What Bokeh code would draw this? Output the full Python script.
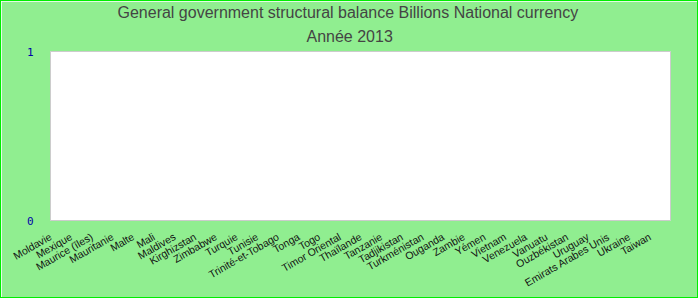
from bokeh.plotting import figure
from bokeh.models import ColumnDataSource, FixedTicker, Range1d, Title
from bokeh.transform import dodge
from bokeh.embed import file_html
from bokeh.resources import INLINE

title_line1 = "General government structural balance Billions National currency"
title_line2 = "Année 2013"

countries = [
    "Moldavie", "Mexique", "Maurice (îles)", "Mauritanie", "Malte", "Mali",
    "Maldives", "Kirghizstan", "Zimbabwe", "Turquie", "Tunisie",
    "Trinité-et-Tobago", "Tonga", "Togo", "Timor Oriental", "Thaïlande",
    "Tanzanie", "Tadjikistan", "Turkménistan", "Ouganda", "Zambie", "Yémen",
    "Vietnam", "Venezuela", "Vanuatu", "Ouzbékistan", "Uruguay",
    "Emirats Arabes Unis", "Ukraine", "Taiwan",
]

NA = float("nan")
# No values are reported for 2013 (the reference plot is empty)
values = [NA, NA, NA, NA, NA, NA, NA, NA, NA, NA,
          NA, NA, NA, NA, NA, NA, NA, NA, NA, NA,
          NA, NA, NA, NA, NA, NA, NA, NA, NA, NA]

y_ticks = [0, 1]

n = len(countries)
slots = list(range(n))
source = ColumnDataSource(data=dict(slot=slots, country=countries, value=values))

p = figure(
    width=698, height=298,
    x_range=Range1d(0, n),
    y_range=Range1d(0, 1),
    output_backend="svg", toolbar_location=None,
    min_border_left=49, min_border_right=29,
    min_border_top=50, min_border_bottom=79,
)
p.styles = {"border": "1px solid #00ee00"}

# bars would sit in the middle of each category slot
p.vbar(x=dodge("slot", 0.5), top="value", bottom=0, width=0.8, source=source,
       fill_color="#4f81bd", line_color=None)

p.background_fill_color = "white"
p.border_fill_color = "#90EE90"
p.outline_line_color = "#cccccc"
p.outline_line_width = 1
p.xgrid.grid_line_color = None
p.ygrid.grid_line_color = None

# category labels are anchored at the left edge of each slot
p.xaxis.ticker = FixedTicker(ticks=slots)
p.xaxis.major_label_overrides = {i: c for i, c in zip(slots, countries)}
p.xaxis.axis_line_color = None
p.xaxis.major_tick_line_color = None
p.xaxis.minor_tick_line_color = None
p.xaxis.major_label_orientation = 0.5236
p.xaxis.major_label_text_font = "Liberation Sans"
p.xaxis.major_label_text_font_size = "10.5px"
p.xaxis.major_label_text_color = "#111111"
p.xaxis.major_label_standoff = 9

p.yaxis.ticker = FixedTicker(ticks=y_ticks)
p.yaxis.axis_line_color = None
p.yaxis.major_tick_line_color = None
p.yaxis.minor_tick_line_color = None
p.yaxis.major_label_text_font = "DejaVu Sans Mono"
p.yaxis.major_label_text_font_size = "11px"
p.yaxis.major_label_text_color = "#0000aa"
p.yaxis.major_label_standoff = 11

p.add_layout(Title(text=title_line2, align="left", offset=256,
                   vertical_align="middle",
                   text_font="Liberation Sans",
                   text_font_size="16px", text_font_style="normal",
                   text_color="#444444", standoff=11), "above")
p.add_layout(Title(text=title_line1, align="left", offset=67,
                   vertical_align="middle",
                   text_font="Liberation Sans",
                   text_font_size="16px", text_font_style="normal",
                   text_color="#444444", standoff=0), "above")

open("out.html", "w").write(file_html(p, INLINE))
